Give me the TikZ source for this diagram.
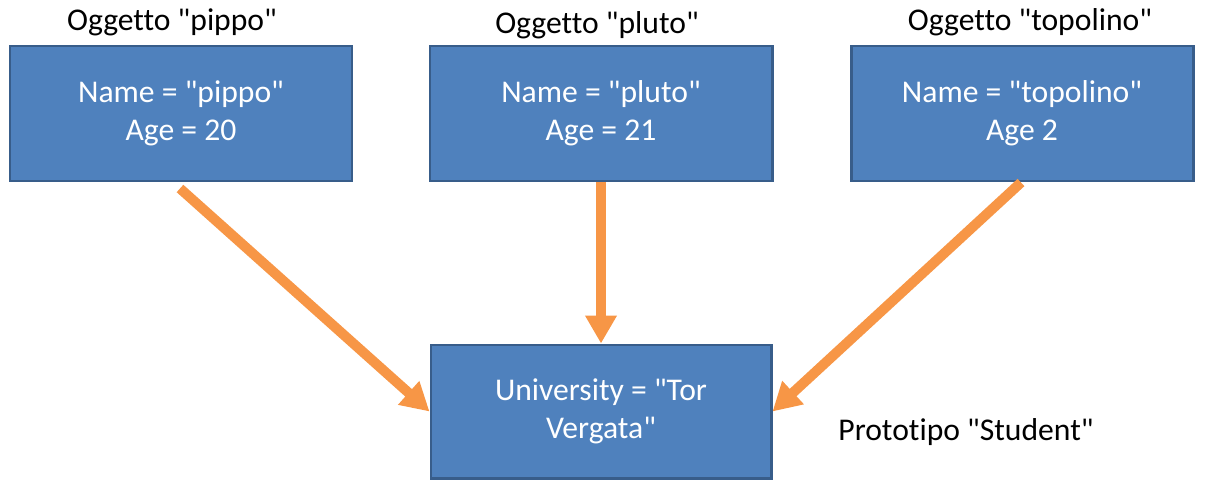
\documentclass[tikz,border=0pt]{standalone}
\usepackage{fontspec}
\setmainfont{Carlito}[Ligatures={TeXOff,NoCommon}]
\usepackage{tikz}
\usetikzlibrary{arrows.meta, positioning}
\definecolor{boxblue}{RGB}{79,129,189}
\definecolor{boxedge}{RGB}{56,93,138}
\definecolor{arrorange}{RGB}{247,150,70}
\tikzset{
    objbox/.style={draw=boxedge, fill=boxblue, line width=1.7pt, text=white,
        minimum width=6.84cm, minimum height=2.7cm, align=center,
        font=\fontsize{18}{21.6}\selectfont},
    caption/.style={font=\fontsize{18}{21.6}\selectfont},
    link/.style={arrorange, line width=0.2cm,
        -{Triangle[width=0.6cm,length=0.56cm]}}
}
\begin{document}
\begin{tikzpicture}
        \useasboundingbox (0,0) rectangle (24.36,9.8);
        % oggetti
        \node[objbox] (pippo) at (3.62,7.53) {Name = "pippo"\\Age = 20};
        \node[objbox] (pluto) at (12.02,7.53) {Name = "pluto"\\Age = 21};
        \node[objbox] (topolino) at (20.44,7.53) {Name = "topolino"\\Age 2};
        
        \node[caption] (tpippo) at (3.44,9.36) {Oggetto "pippo"};
        \node[caption] (tpluto) at (11.94,9.30) {Oggetto "pluto"};
        \node[caption] (ttopolino) at (20.6,9.36) {Oggetto "topolino"};
        
        % prototipo
        \node[objbox, minimum width=6.8cm, minimum height=2.66cm] (student) at (12.02,1.57) {University = "Tor\\Vergata"};
        \node[caption] (tstudent) at (19.32,1.16) {Prototipo "Student"};
        
        \draw[link] ([shift={(-0.02,-0.12)}]pippo.south) -- (student.west);
        \draw[link] (pluto.south) -- (student.north);
        \draw[link] ([xshift=-0.02cm]topolino.south) -- (student.east);
        
        \end{tikzpicture}
\end{document}
